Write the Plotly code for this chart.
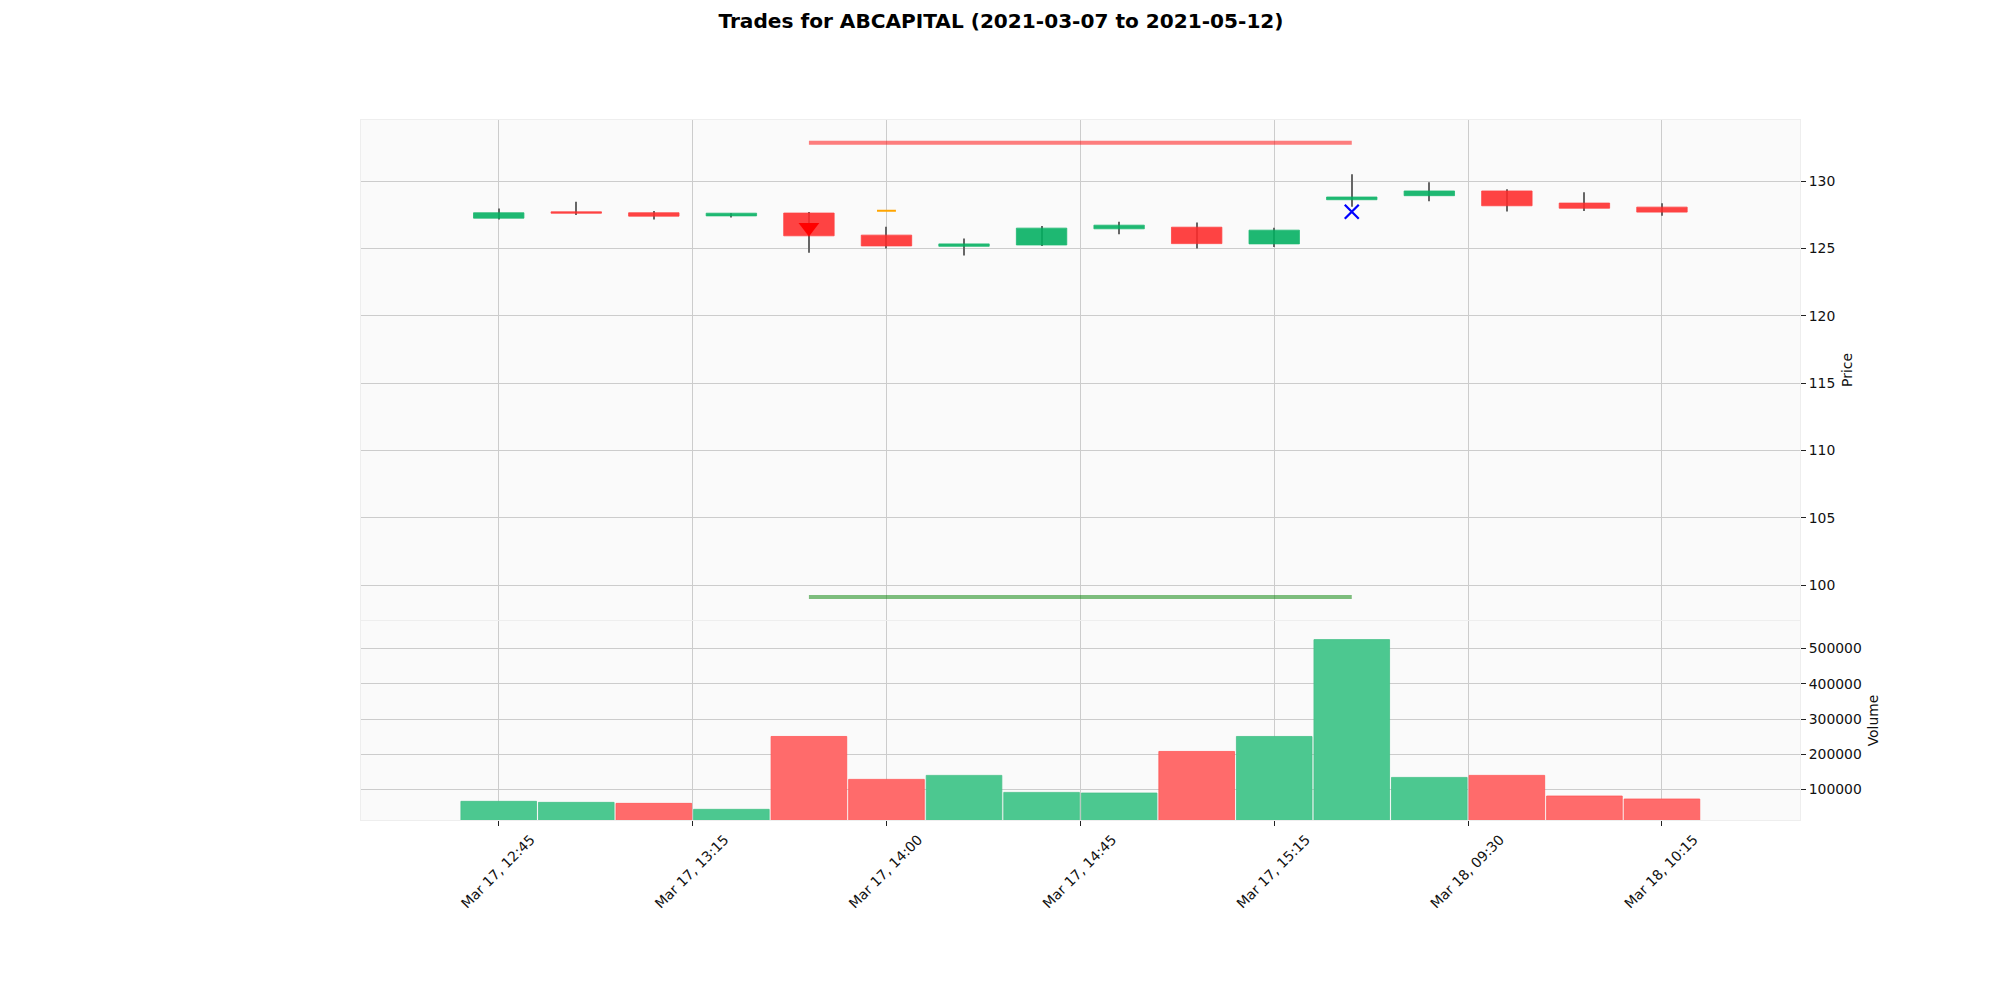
import plotly.graph_objects as go

title = "Trades for ABCAPITAL (2021-03-07 to 2021-05-12)"
candle_index = list(range(16))
opens = [127.26, 127.73, 127.66, 127.43, 127.64, 126.0, 125.17, 125.27, 126.47, 126.59, 125.35, 128.63, 128.93, 129.28, 128.38, 128.08]
closes = [127.66, 127.63, 127.41, 127.63, 125.95, 125.2, 125.35, 126.52, 126.74, 125.37, 126.37, 128.83, 129.28, 128.18, 128.0, 127.71]
highs = [127.98, 128.48, 127.8, 127.63, 127.71, 126.62, 125.75, 126.67, 126.99, 126.94, 126.54, 130.52, 129.93, 129.4, 129.18, 128.36]
lows = [127.16, 127.49, 127.16, 127.31, 124.7, 125.0, 124.48, 125.2, 126.07, 125.0, 125.12, 128.11, 128.51, 127.76, 127.8, 127.44]
volumes = [66000, 63100, 60300, 43300, 250400, 128400, 139800, 91500, 89600, 207800, 250400, 525600, 134000, 139800, 81100, 72600]
volume_up = [True, True, False, True, False, False, True, True, True, False, True, True, True, False, False, False]

tick_positions = [0, 2.5, 5, 7.5, 10, 12.5, 15]
tick_labels = ["Mar 17, 12:45", "Mar 17, 13:15", "Mar 17, 14:00", "Mar 17, 14:45",
               "Mar 17, 15:15", "Mar 18, 09:30", "Mar 18, 10:15"]
price_ticks = [100, 105, 110, 115, 120, 125, 130]
volume_ticks = [100000, 200000, 300000, 400000, 500000]

entry_index, entry_price = [4], [126.57]
exit_index, exit_price = [11], [127.74]
target_index, target_price = [5], [127.81]
upper_x, upper_y = [4, 11], [132.86, 132.86]
lower_x, lower_y = [4, 11], [99.13, 99.13]

GREEN = "#00b060"
RED = "#ff2a2a"
up = [c >= o for o, c in zip(opens, closes)]
body_colors = [GREEN if u else RED for u in up]
vol_fill = ["#4cc890" if u else "#ff6b6b" for u in volume_up]
vol_edge = ["#46c088" if u else "#ff5555" for u in volume_up]
FONT = "DejaVu Sans"
TEXT = "#111111"

fig = go.Figure()
fig.add_trace(go.Bar(x=candle_index, y=[h - l for h, l in zip(highs, lows)], base=lows,
                     width=0.013, marker=dict(color="#666666", line=dict(width=0)),
                     xaxis="x", yaxis="y", showlegend=False))
fig.add_trace(go.Bar(x=candle_index, y=[abs(c - o) for o, c in zip(opens, closes)],
                     base=[min(o, c) for o, c in zip(opens, closes)], width=0.65,
                     marker=dict(color=body_colors, opacity=0.88,
                                 line=dict(color=body_colors, width=0.8)),
                     xaxis="x", yaxis="y", showlegend=False))
fig.add_trace(go.Scatter(x=upper_x, y=upper_y, mode="lines",
                         line=dict(color="rgba(255,0,0,0.5)", width=4), showlegend=False))
fig.add_trace(go.Scatter(x=lower_x, y=lower_y, mode="lines",
                         line=dict(color="rgba(0,128,0,0.5)", width=4), showlegend=False))
fig.add_trace(go.Scatter(x=entry_index, y=entry_price, mode="markers",
                         marker=dict(symbol="triangle-down", size=18, color="#ff0000"), showlegend=False))
fig.add_trace(go.Scatter(x=exit_index, y=exit_price, mode="markers",
                         marker=dict(symbol="x-thin", size=14, line=dict(color="#0000ff", width=2.2)), showlegend=False))
fig.add_trace(go.Scatter(x=target_index, y=target_price, mode="markers",
                         marker=dict(symbol="line-ew", size=13.5, line=dict(color="orange", width=2)), showlegend=False))
fig.add_trace(go.Bar(x=candle_index, y=volumes, width=0.975, base=0,
                     marker=dict(color=vol_fill, line=dict(color=vol_edge, width=0.8)),
                     xaxis="x2", yaxis="y2", showlegend=False))

xrange = [-1.776, 16.78]
common_x = dict(range=xrange, tickmode="array", tickvals=tick_positions, showgrid=True,
                gridcolor="#cccccc", gridwidth=1.3, zeroline=False, showline=True, linecolor="#eeeeee",
                linewidth=1, mirror=True, domain=[0.1765, 0.896])
common_y = dict(side="right", showgrid=True, gridcolor="#cccccc", gridwidth=1.3, zeroline=False,
                showline=True, linecolor="#eeeeee", linewidth=1, mirror=True, ticks="outside",
                ticklen=5, tickcolor="#222222", tickwidth=1,
                tickfont=dict(family=FONT, size=13.9, color=TEXT))

fig.update_layout(
    width=2000, height=1000, margin=dict(l=0, r=0, t=0, b=0), autosize=False,
    paper_bgcolor="white", plot_bgcolor="#fafafa", barmode="overlay",
    title=dict(text=f"<b>{title}</b>", x=0.4965, xanchor="center", y=0.987, yanchor="middle",
               font=dict(family=FONT, size=20.1, color="black")),
    xaxis=dict(**common_x, anchor="y", showticklabels=False, ticks=""),
    xaxis2=dict(**common_x, anchor="y2", matches="x", ticktext=tick_labels, tickangle=-45,
                ticks="outside", ticklen=5, tickcolor="#222222", tickwidth=1, ticklabelshift=32,
                tickfont=dict(family=FONT, size=13.9, color=TEXT)),
    yaxis=dict(**common_y, domain=[0.388, 0.888], range=[97.42, 134.55], tickvals=price_ticks,
               title=dict(text="Price", standoff=7, font=dict(family=FONT, size=13.9, color=TEXT))),
    yaxis2=dict(**common_y, domain=[0.188, 0.387], range=[13000, 578500], tickvals=volume_ticks,
                tickformat="d",
                title=dict(text="Volume", standoff=7, font=dict(family=FONT, size=13.9, color=TEXT))),
)
fig.write_html("out.html")
